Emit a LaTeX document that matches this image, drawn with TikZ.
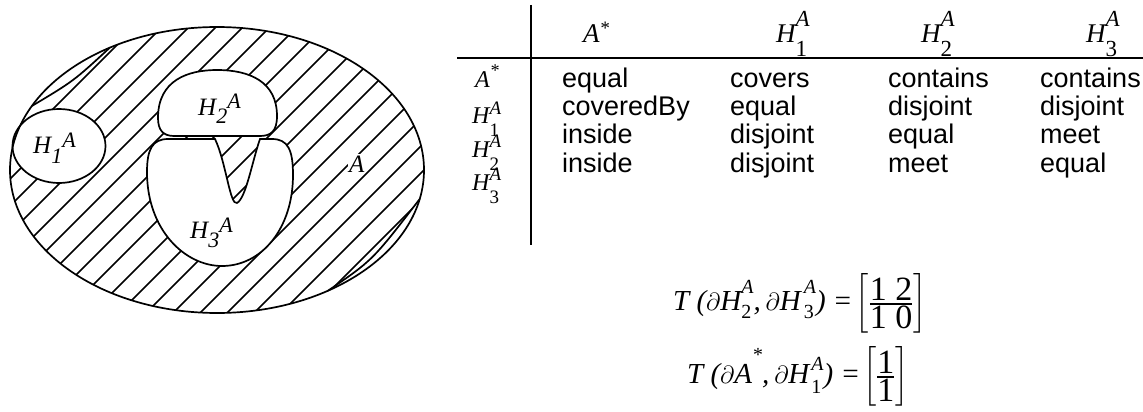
\documentclass[tikz,border=0pt]{standalone}
\usepackage{amsmath}
\usepackage{fontspec}
\setmainfont{Liberation Sans}
\newfontfamily\tms{Liberation Serif}
\usetikzlibrary{positioning}

\newcommand\fs[1]{\fontsize{#1}{#1}\selectfont}
% superscript stacked over subscript
\newcommand\stk[4]{\ooalign{\raisebox{#3}{#1}\cr\raisebox{#4}{#2}\cr}}

\begin{document}
\begin{tikzpicture}[x=1pt, y=-1pt,
    word/.style={anchor=base west, inner sep=0pt, font=\fs{27}},
    mth/.style={anchor=base west, inner sep=0pt, font=\tms\itshape\fs{27}},
    rowh/.style={anchor=base west, inner sep=0pt, font=\tms\itshape\fs{24}},
    lbl/.style={anchor=base west, inner sep=0pt, font=\tms\itshape\fs{25}},
    eqn/.style={anchor=base west, inner sep=0pt, font=\tms\itshape\fs{29}},
    hatch/.style={line width=1.7pt},
    region/.style={draw, line width=1.7pt, fill=white},
    rule/.style={line width=2.8pt}]
    \useasboundingbox (0,0) rectangle (1143,412);

    % hatched region A
    \begin{scope}
        \clip (217,170) ellipse [x radius=207, y radius=143];
        \foreach \k in {5,...,23}
            \draw[hatch] (27*\k,0) -- ++(-340,340);
    \end{scope}
    \fill[white] (31.9,106) arc[start angle=206.6, end angle=238.8, x radius=207, y radius=143]
        .. controls (73.7,81) .. (31.9,106);
    \fill[white] (419.7,199) arc[start angle=11.7, end angle=57.6, x radius=207, y radius=143]
        .. controls (372.7,260.2) .. (419.7,199);
    \draw[hatch] (109.8,47.7) .. controls (73.7,81) .. (31.9,106);
    \draw[hatch] (328,290.7) .. controls (372.7,260.2) .. (419.7,199);

    % holes
    \draw[region] (59,146) ellipse [x radius=46.5, y radius=37];
    \draw[region] (158,118) .. controls (158,80) and (188,70) .. (217,70)
        .. controls (250,70) and (277,82) .. (277,116)
        .. controls (277,131) and (271,136) .. (260,136) -- (174,136)
        .. controls (163,136) and (158,130) .. (158,118) -- cycle;
    \draw[region] (215,139) -- (168,139) .. controls (152,139) and (147,150) .. (147,172)
        .. controls (147,230) and (185,266) .. (222,266)
        .. controls (262,266) and (293,228) .. (293,175)
        .. controls (293,150) and (288,139) .. (272,139) -- (260,139)
        .. controls (252,162) and (246,198) .. (237,203)
        .. controls (230,206) and (226,162) .. (215,139) -- cycle;
    \draw[hatch] (217,170) ellipse [x radius=207, y radius=143];

    % labels in the figure
    \node[lbl] (h1) at (33,153) {H\raisebox{-10pt}{\fs{22}1}\raisebox{6pt}{\fs{22}A}};
    \node[lbl] (h2) at (198,115) {H\raisebox{-8pt}{\fs{22}2}\raisebox{7pt}{\fs{22}A}};
    \node[lbl] (h3) at (190,238) {H\raisebox{-9pt}{\fs{22}3}\raisebox{6pt}{\fs{22}A}};
    \node[lbl, fill=white, inner sep=1pt] (a) at (348,172) {A};

    % table rules
    \coordinate (vtop) at (531,5);
    \coordinate (vbot) at (531,245);
    \coordinate (hl) at (457,58);
    \coordinate (hr) at (1143,58);
    \draw[rule] (vtop) -- (vbot);
    \draw[rule] (hl) -- (hr);

    % column heads
    \node[mth] (cA) at (583,43) {A\raisebox{9pt}{\fs{19}*}};
    \node[mth] (cH1) at (776,43) {H\stk{\fs{23}A}{\upshape\fs{23}1}{17pt}{-14pt}};
    \node[mth] (cH2) at (921,43) {H\stk{\fs{23}A}{\upshape\fs{23}2}{17pt}{-14pt}};
    \node[mth] (cH3) at (1086,43) {H\stk{\fs{23}A}{\upshape\fs{23}3}{17pt}{-14pt}};

    % row heads
    \node[rowh] (rA) at (475,87) {A\raisebox{10pt}{\fs{18}*}};
    \node[rowh] (rH1) at (472,123) {H\stk{\fs{19}A}{\upshape\fs{19}1}{9pt}{-13pt}};
    \node[rowh] (rH2) at (472,157) {H\stk{\fs{19}A}{\upshape\fs{19}2}{10pt}{-13pt}};
    \node[rowh] (rH3) at (472,190) {H\stk{\fs{19}A}{\upshape\fs{19}3}{10pt}{-13pt}};

    % relations
    \node[word] (t11) at (562,87) {equal};
    \node[word] (t12) at (730,87) {covers};
    \node[word] (t13) at (888,87) {contains};
    \node[word] (t14) at (1040,87) {contains};
    \node[word] (t21) at (562,115) {coveredBy};
    \node[word] (t22) at (730,115) {equal};
    \node[word] (t23) at (888,115) {disjoint};
    \node[word] (t24) at (1040,115) {disjoint};
    \node[word] (t31) at (562,143) {inside};
    \node[word] (t32) at (730,143) {disjoint};
    \node[word] (t33) at (888,143) {equal};
    \node[word] (t34) at (1040,143) {meet};
    \node[word] (t41) at (562,172) {inside};
    \node[word] (t42) at (730,172) {disjoint};
    \node[word] (t43) at (888,172) {meet};
    \node[word] (t44) at (1040,172) {equal};

    % boundary matrices
    \node[eqn] (eqa) at (673,310) {T\ ($\partial$H\stk{\fs{20}A}{\upshape\fs{20}2}{17pt}{-8pt},\,$\partial$H\kern3pt\stk{\fs{20}A}{\upshape\fs{20}3}{17pt}{-8pt}) =\kern3pt{\fs{34}$\left[\genfrac{}{}{1.6pt}{}{\mbox{\upshape 1 2}}{\mbox{\upshape 1 0}}\right]$}};
    \node[eqn] (eqb) at (687,383) {T\ ($\partial$A\raisebox{22pt}{\fs{20}*},\,$\partial$H\kern2pt\stk{\fs{20}A}{\upshape\fs{20}1}{13pt}{-10pt}) =\kern3pt{\fs{34}$\left[\genfrac{}{}{1.6pt}{}{\mbox{\upshape 1}}{\mbox{\upshape 1}}\right]$}};
\end{tikzpicture}
\end{document}
